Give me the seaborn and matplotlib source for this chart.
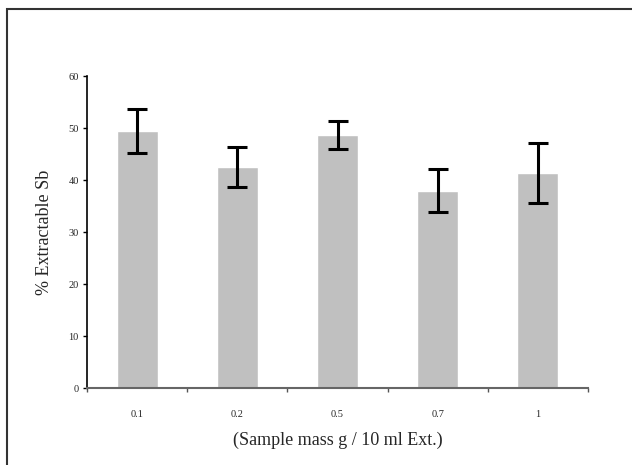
import matplotlib
matplotlib.use("Agg")
import matplotlib.pyplot as plt
import seaborn as sns
import pandas as pd
from matplotlib.patches import Rectangle

categories = ["0.1", "0.2", "0.5", "0.7", "1"]
values = [49.5, 42.6, 48.7, 38.0, 41.4]
errors = [4.3, 3.9, 2.7, 4.2, 5.7]
yticks = [0, 10, 20, 30, 40, 50, 60]

sns.set_theme(style="white")
plt.rcParams['font.family'] = ['Liberation Serif', 'DejaVu Serif']

df = pd.DataFrame({"mass": categories, "pct": values, "err": errors})

fig = plt.figure(figsize=(6.32, 4.65), dpi=100)
ax = fig.add_axes([87/632, 1-388/465, (588-87)/632, (388-76.4)/465])

sns.barplot(data=df, x="mass", y="pct", order=categories, color="#c0c0c0",
            saturation=1, width=0.41, errorbar=None, ax=ax)
ax.errorbar(range(len(categories)), values, yerr=errors, fmt="none",
            ecolor="black", elinewidth=2.2, capsize=7, capthick=2.2, zorder=5)

ax.set_xlim(-0.5, len(categories) - 0.5)
ax.set_ylim(0, 60)
ax.set_yticks(yticks)
ax.set_yticklabels([str(t) for t in yticks], fontsize=7.5)
ax.set_xticks(range(len(categories)))
ax.set_xticklabels(categories, fontsize=7.5)
ax.tick_params(axis="x", length=0, pad=16)
ax.tick_params(axis="y", length=3, width=1, direction="out", pad=3, left=True, color="black")
ax.set_xticks([i + 0.5 for i in range(-1, len(categories))], minor=True)
ax.tick_params(axis="x", which="minor", length=3, width=1, direction="out", bottom=True, color="#555555")

for s in ["top", "right"]:
    ax.spines[s].set_visible(False)
ax.spines["left"].set_color("black")
ax.spines["left"].set_linewidth(1.2)
ax.spines["bottom"].set_color("#666666")
ax.spines["bottom"].set_linewidth(1.5)

ax.set_ylabel("% Extractable Sb", fontsize=13, labelpad=11)
ax.set_xlabel("(Sample mass g / 10 ml Ext.)", fontsize=13, labelpad=9)

fig.patches.append(Rectangle((7/632, -0.1), 1.2, (1 - 9/465) + 0.1, transform=fig.transFigure,
                             fill=False, edgecolor="#333333", linewidth=1.5))

fig.savefig("out.png", dpi=100)
